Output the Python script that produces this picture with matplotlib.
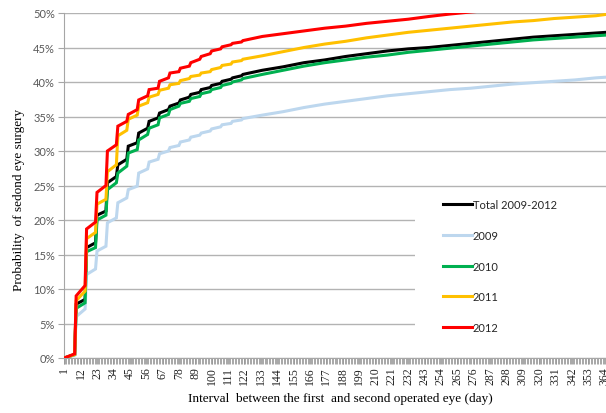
import numpy as np
import matplotlib.pyplot as plt
from matplotlib.patches import Rectangle

# weekly staircase: value just before each weekly jump (lo) and just after it (hi)
jump_days = [8, 15, 22, 29, 36, 43, 50, 57, 64, 71, 78, 85, 92, 99, 106, 113, 120]
late_days = [134, 148, 162, 176, 190, 204, 218, 232, 246, 260, 274, 288, 302,
             316, 330, 344, 358, 365]

total_lo = [0.5, 8.5, 16.7, 21.3, 26.3, 28.8, 31.2, 33.3, 34.8, 36.0, 36.95, 37.8,
            38.5, 39.2, 39.8, 40.4, 40.9]
total_hi = [7.8, 16.0, 20.7, 25.4, 28.0, 30.7, 32.6, 34.3, 35.5, 36.5, 37.4, 38.2,
            38.9, 39.5, 40.1, 40.6, 41.1]
total_late = [41.7, 42.2, 42.8, 43.2, 43.7, 44.1, 44.5, 44.8, 45.0, 45.3, 45.6, 45.9,
              46.2, 46.5, 46.7, 46.9, 47.1, 47.2]

y2009_lo = [0.4, 7.1, 12.9, 16.2, 20.3, 23.2, 24.9, 27.4, 28.8, 30.0, 30.8, 31.6,
            32.3, 32.9, 33.5, 34.0, 34.5]
y2009_hi = [6.0, 12.1, 15.5, 19.6, 22.5, 24.4, 26.8, 28.4, 29.6, 30.5, 31.3, 32.0,
            32.6, 33.2, 33.8, 34.3, 34.7]
y2009_late = [35.2, 35.7, 36.3, 36.8, 37.2, 37.6, 38.0, 38.3, 38.6, 38.9, 39.1, 39.4,
              39.7, 39.9, 40.1, 40.3, 40.6, 40.7]

y2010_lo = [0.5, 8.0, 16.0, 20.7, 25.4, 27.8, 30.2, 32.4, 33.8, 35.3, 36.5, 37.2,
            37.9, 38.6, 39.2, 39.8, 40.3]
y2010_hi = [7.2, 15.4, 20.0, 24.4, 26.8, 29.7, 31.6, 33.3, 34.8, 36.0, 36.9, 37.6,
            38.3, 38.9, 39.5, 40.0, 40.5]
y2010_late = [41.1, 41.7, 42.3, 42.8, 43.2, 43.6, 43.9, 44.3, 44.6, 44.9, 45.2, 45.5,
              45.8, 46.1, 46.3, 46.5, 46.7, 46.8]

y2011_lo = [0.5, 9.7, 18.2, 23.0, 28.0, 33.0, 35.2, 37.0, 38.2, 39.1, 39.8, 40.5,
            41.0, 41.5, 42.1, 42.6, 43.1]
y2011_hi = [8.3, 17.3, 22.3, 27.0, 32.2, 34.6, 36.5, 37.8, 38.8, 39.6, 40.2, 40.8,
            41.3, 41.8, 42.4, 42.9, 43.3]
y2011_late = [43.8, 44.4, 45.0, 45.5, 45.9, 46.4, 46.8, 47.2, 47.5, 47.8, 48.1, 48.4,
              48.7, 48.9, 49.2, 49.4, 49.6, 49.8]

y2012_lo = [0.6, 10.5, 19.7, 25.0, 30.9, 34.3, 36.0, 38.0, 39.1, 40.6, 41.5, 42.3,
            43.3, 44.1, 44.8, 45.4, 45.8]
y2012_hi = [9.0, 18.7, 24.0, 30.0, 33.6, 35.3, 37.4, 38.9, 40.1, 41.3, 42.0, 42.8,
            43.7, 44.5, 45.1, 45.6, 46.0]
y2012_late = [46.6, 47.0, 47.4, 47.8, 48.1, 48.5, 48.8, 49.1, 49.5, 49.85, 50.15, 50.4,
              50.7, 50.9, 51.1, 51.3, 51.5, 51.6]

series_names = ["Total 2009-2012", "2009", "2010", "2011", "2012"]
series_colors = ["#000000", "#BDD7EE", "#00B050", "#FFC000", "#FF0000"]
y_ticks = [0, 5, 10, 15, 20, 25, 30, 35, 40, 45, 50]
x_ticks = list(range(1, 366, 11))


def build_curve(lo, hi, late):
    days = [1]
    vals = [0.0]
    for d, a, b in zip(jump_days, lo, hi):
        days += [d, d + 1]
        vals += [a, b]
    return np.array(days + late_days), np.array(vals + late) / 100


W, H = 606, 414
fig = plt.figure(figsize=(W / 100, H / 100), dpi=100)
left, right, top, bottom = 63.5, 607.0, 14.0, 359.0
ax = fig.add_axes([left / W, 1 - bottom / H, (right - left) / W, (bottom - top) / H])

curves = [(total_lo, total_hi, total_late), (y2009_lo, y2009_hi, y2009_late),
          (y2010_lo, y2010_hi, y2010_late), (y2011_lo, y2011_hi, y2011_late),
          (y2012_lo, y2012_hi, y2012_late)]
for (lo, hi, late), name, col in zip(curves, series_names, series_colors):
    x, y = build_curve(lo, hi, late)
    ax.plot(x, y, color=col, lw=2.2, label=name, zorder=3, solid_joinstyle="miter")

ax.set_xlim(0.5, 365.5)
ax.set_ylim(0, 0.5)
ax.set_yticks([v / 100 for v in y_ticks])
ax.set_yticklabels([f"{v}%" for v in y_ticks], fontsize=8, color="#595959",
                   family="Lato")
ax.set_xticks(x_ticks)
ax.set_xticklabels([str(v) for v in x_ticks], rotation=90, fontsize=8.5,
                   family="Liberation Serif", color="#222222")
ax.set_xticks(np.arange(0.5, 366, 1), minor=True)
ax.tick_params(axis="x", which="both", length=4, width=0.6, color="#999999", pad=2)
ax.tick_params(axis="y", length=4, width=0.8, color="#a6a6a6", pad=2)

ax.grid(axis="y", color="#b3b3b3", lw=1.0, zorder=0)
for s in ["top", "right"]:
    ax.spines[s].set_visible(False)
ax.spines["left"].set_color("#a6a6a6")
ax.spines["bottom"].set_color("#a6a6a6")

ax.set_xlabel("Interval  between the first  and second operated eye (day)",
              family="Liberation Serif", fontsize=9.5)
ax.xaxis.set_label_coords((340 - left) / (right - left), (bottom - 393) / (bottom - top))
ax.set_ylabel("Probability  of sedond eye surgery", family="Liberation Serif",
              fontsize=9.5)
ax.yaxis.set_label_coords((25 - left) / (right - left), (bottom - 200) / (bottom - top))

# white block behind the legend that hides the gridlines
ax.add_patch(Rectangle((415 / W, 1 - 345 / H), (W - 415) / W, (345 - 192) / H,
                       transform=fig.transFigure, facecolor="white",
                       edgecolor="none", zorder=2, clip_on=False))

leg = ax.legend(loc="upper left", bbox_to_anchor=(433 / W, 1 - 190 / H),
                bbox_transform=fig.transFigure, frameon=False,
                handlelength=2.6, handletextpad=0.1, labelspacing=1.78,
                prop={"family": "Lato", "size": 8})
leg.set_zorder(5)
for t in leg.get_texts():
    t.set_color("#262626")

fig.savefig("out.png", dpi=100)
